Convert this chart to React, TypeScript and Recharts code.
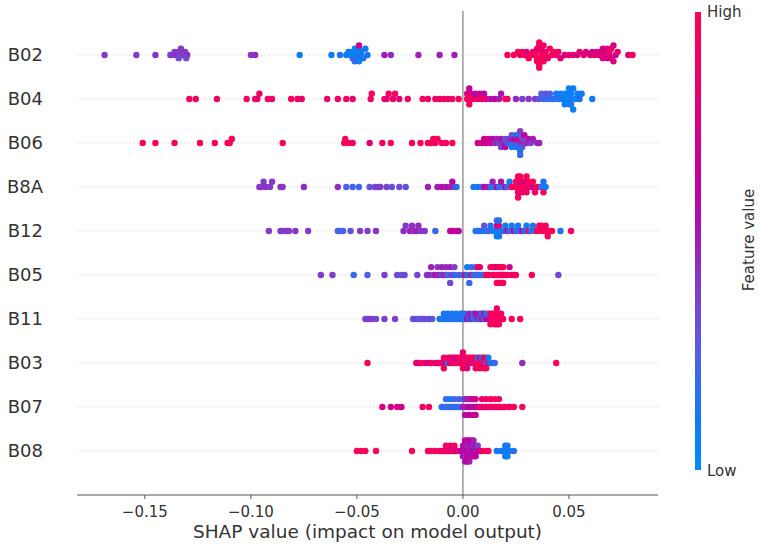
import React from "react";
import { ScatterChart, Scatter, XAxis, YAxis, ReferenceLine } from "recharts";

// feature names, top to bottom
const FEATURES = ["B02", "B04", "B06", "B8A", "B12", "B05", "B11", "B03", "B07", "B08"];
const X_TICKS = [-0.15, -0.1, -0.05, 0, 0.05];

// [shap value, feature value 0..1]
const B02: [number, number][] = [
  [-0.169, 0.4], [-0.154, 0.4], [-0.145, 0.42], [-0.138, 0.35], [-0.137, 0.4], [-0.136, 0.38], [-0.135, 0.45],
  [-0.134, 0.4], [-0.134, 0.35], [-0.133, 0.42], [-0.132, 0.38], [-0.131, 0.4], [-0.13, 0.45], [-0.1305, 0.36],
  [-0.1, 0.42], [-0.098, 0.45], [-0.077, 0.1], [-0.062, 0.1], [-0.058, 0.15],
  [-0.055, 0.1], [-0.054, 0.12], [-0.053, 0.05], [-0.052, 0.1], [-0.052, 0.15], [-0.051, 0.08], [-0.051, 0.2],
  [-0.05, 0.1], [-0.05, 0.05], [-0.05, 0.12], [-0.049, 0.1], [-0.049, 0.08], [-0.049, 0.7], [-0.048, 0.12],
  [-0.048, 0.1], [-0.047, 0.15], [-0.046, 0.1], [-0.045, 0.12],
  [-0.037, 0.5], [-0.034, 0.45], [-0.021, 0.48], [-0.011, 0.5], [-0.004, 0.5],
  [0.021, 0.95], [0.024, 0.9], [0.026, 0.95], [0.027, 0.85], [0.028, 0.9], [0.029, 0.95], [0.03, 0.8],
  [0.031, 0.9], [0.032, 0.95], [0.033, 0.85], [0.034, 0.95], [0.034, 0.9], [0.035, 1], [0.035, 0.85],
  [0.035, 0.95], [0.036, 0.9], [0.036, 0.95], [0.036, 1], [0.037, 0.85], [0.037, 1],
  [0.036, 0.95], [0.037, 0.9], [0.037, 0.8], [0.038, 0.95], [0.038, 0.85], [0.039, 1], [0.039, 0.9], [0.04, 0.85],
  [0.041, 0.95], [0.042, 0.9], [0.043, 1], [0.044, 0.85], [0.045, 0.9], [0.046, 0.8], [0.048, 0.75],
  [0.05, 0.85], [0.052, 0.8], [0.054, 0.75], [0.055, 0.85], [0.057, 0.8], [0.058, 0.75], [0.06, 0.8],
  [0.061, 0.7], [0.062, 0.85], [0.063, 0.75], [0.064, 0.8], [0.065, 0.7], [0.066, 0.85], [0.066, 0.75],
  [0.067, 0.8], [0.067, 0.75], [0.068, 0.7], [0.068, 0.8], [0.069, 0.9], [0.069, 0.8], [0.07, 0.75],
  [0.07, 0.85], [0.071, 0.8], [0.071, 0.75], [0.072, 0.7], [0.073, 0.85], [0.078, 0.8], [0.08, 0.9],
];

const B04: [number, number][] = [
  [-0.129, 0.88], [-0.126, 0.88], [-0.116, 0.88], [-0.102, 0.88], [-0.098, 0.9], [-0.097, 0.85], [-0.096, 0.88],
  [-0.092, 0.88], [-0.09, 0.88], [-0.081, 0.88], [-0.078, 0.9], [-0.076, 0.85], [-0.064, 0.88], [-0.059, 0.88],
  [-0.055, 0.88], [-0.052, 0.85], [-0.0435, 0.9], [-0.043, 0.88],
  [-0.037, 0.9], [-0.036, 0.8], [-0.035, 0.9], [-0.033, 0.85], [-0.032, 0.9], [-0.03, 0.8], [-0.026, 0.9],
  [-0.019, 0.9], [-0.0165, 0.88], [-0.013, 0.9], [-0.011, 0.85], [-0.009, 0.9], [-0.007, 0.85], [-0.005, 0.9],
  [-0.002, 0.9],
  [0.002, 0.95], [0.002, 0.8], [0.003, 0.9], [0.003, 0.65], [0.004, 0.95], [0.004, 0.75], [0.005, 0.9],
  [0.006, 0.6], [0.007, 0.85], [0.008, 0.7], [0.009, 0.9], [0.01, 0.6], [0.011, 0.85],
  [0.013, 0.55], [0.015, 0.6], [0.017, 0.5], [0.018, 0.55], [0.02, 0.9], [0.021, 0.9],
  [0.025, 0.45], [0.028, 0.4], [0.031, 0.42], [0.034, 0.4],
  [0.036, 0.3], [0.037, 0.25], [0.038, 0.2], [0.039, 0.3], [0.04, 0.2], [0.041, 0.25], [0.042, 0.15],
  [0.043, 0.2], [0.044, 0.1], [0.045, 0.15], [0.046, 0.1], [0.047, 0.1], [0.048, 0.05], [0.048, 0.1],
  [0.049, 0.05], [0.05, 0.1], [0.05, 0.05], [0.05, 0.08], [0.051, 0.1], [0.051, 0.05], [0.051, 0.15],
  [0.052, 0.1], [0.052, 0.08], [0.053, 0.05], [0.054, 0.1], [0.055, 0.15], [0.056, 0.1], [0.061, 0.1],
];

const B06: [number, number][] = [
  [-0.151, 0.95], [-0.145, 0.95], [-0.136, 0.95], [-0.124, 0.95], [-0.117, 0.95], [-0.111, 0.95], [-0.11, 0.95],
  [-0.109, 0.95], [-0.085, 0.95], [-0.056, 0.95], [-0.0555, 0.9], [-0.054, 0.95], [-0.052, 0.9], [-0.044, 0.75],
  [-0.038, 0.95], [-0.034, 0.95], [-0.024, 0.95], [-0.02, 0.95], [-0.0165, 0.95], [-0.015, 0.9], [-0.014, 0.95],
  [-0.013, 0.9], [-0.012, 0.95], [-0.01, 0.9], [-0.008, 0.95], [-0.005, 0.95],
  [0.007, 0.7], [0.009, 0.75], [0.01, 0.7], [0.011, 0.65], [0.012, 0.7], [0.013, 0.75],
  [0.014, 0.6], [0.015, 0.45], [0.016, 0.5], [0.017, 0.4], [0.018, 0.55], [0.018, 0.35], [0.019, 0.45],
  [0.02, 0.3], [0.02, 0.6], [0.021, 0.35], [0.022, 0.2], [0.022, 0.45], [0.023, 0.1], [0.023, 0.3],
  [0.024, 0.15], [0.024, 0.6], [0.025, 0.2], [0.025, 0.1], [0.026, 0.4], [0.026, 0.7], [0.026, 0.15],
  [0.027, 0.25], [0.027, 0.1], [0.027, 0.4], [0.027, 0.2], [0.028, 0.5], [0.028, 0.35], [0.028, 0.3],
  [0.029, 0.6], [0.03, 0.45], [0.031, 0.55], [0.032, 0.4], [0.033, 0.5], [0.035, 0.45], [0.036, 0.5],
];

const B8A: [number, number][] = [
  [-0.096, 0.4], [-0.095, 0.42], [-0.094, 0.4], [-0.093, 0.45], [-0.091, 0.4], [-0.09, 0.42], [-0.086, 0.45],
  [-0.085, 0.4], [-0.075, 0.45], [-0.059, 0.45], [-0.055, 0.25], [-0.052, 0.25], [-0.049, 0.2], [-0.044, 0.3],
  [-0.0415, 0.35], [-0.04, 0.4], [-0.039, 0.4], [-0.036, 0.38], [-0.0335, 0.3], [-0.03, 0.35], [-0.027, 0.3],
  [-0.0165, 0.5], [-0.012, 0.5], [-0.01, 0.55], [-0.008, 0.55], [-0.006, 0.5], [-0.005, 0.6], [-0.004, 0.45],
  [-0.003, 0.15],
  [0.005, 0.15], [0.007, 0.1], [0.009, 0.2], [0.01, 0.55], [0.012, 0.6], [0.013, 0.15], [0.014, 0.5],
  [0.015, 0.1], [0.016, 0.65], [0.017, 0.2], [0.018, 0.55], [0.019, 0.15], [0.02, 0.6], [0.021, 0.2],
  [0.022, 0.1], [0.023, 0.9],
  [0.024, 0.95], [0.025, 0.9], [0.025, 1], [0.026, 0.85], [0.026, 0.95], [0.026, 0.9], [0.027, 0.9],
  [0.027, 0.7], [0.027, 1], [0.027, 0.95], [0.028, 1], [0.028, 0.9], [0.028, 0.85], [0.029, 0.95],
  [0.029, 0.75], [0.03, 0.9], [0.03, 1], [0.031, 0.85],
  [0.031, 0.95], [0.032, 0.9], [0.033, 0.7], [0.033, 1], [0.034, 0.9], [0.035, 0.95], [0.036, 0.85],
  [0.037, 0.2], [0.038, 0.15], [0.038, 0.9], [0.039, 0.1],
];

const B12: [number, number][] = [
  [-0.0915, 0.4], [-0.086, 0.42], [-0.085, 0.4], [-0.083, 0.45], [-0.082, 0.4], [-0.079, 0.42], [-0.073, 0.4],
  [-0.059, 0.25], [-0.058, 0.2], [-0.0565, 0.25], [-0.053, 0.3], [-0.0485, 0.4], [-0.045, 0.4], [-0.041, 0.42],
  [-0.028, 0.45], [-0.027, 0.4], [-0.025, 0.5], [-0.024, 0.45], [-0.023, 0.4], [-0.022, 0.5], [-0.021, 0.45],
  [-0.02, 0.4], [-0.018, 0.42], [-0.013, 0.2], [-0.006, 0.6], [-0.005, 0.65], [-0.003, 0.65], [-0.002, 0.6],
  [0.006, 0.15], [0.007, 0.1], [0.008, 0.2], [0.009, 0.15], [0.01, 0.3], [0.011, 0.1], [0.012, 0.25],
  [0.013, 0.15], [0.014, 0.1], [0.015, 0.05], [0.016, 0.65], [0.016, 0.1], [0.016, 0.2], [0.017, 0.2],
  [0.017, 0.8], [0.017, 0.1], [0.017, 0.15],
  [0.018, 0.1], [0.019, 0.15], [0.02, 0.1], [0.021, 0.6], [0.022, 0.2], [0.023, 0.1], [0.024, 0.7],
  [0.025, 0.15], [0.026, 0.1], [0.027, 0.2], [0.028, 0.6], [0.029, 0.15], [0.03, 0.1], [0.031, 0.9],
  [0.032, 0.2], [0.033, 0.15], [0.034, 0.2],
  [0.035, 0.95], [0.036, 0.9], [0.037, 1], [0.037, 0.95], [0.038, 0.9], [0.039, 1], [0.039, 0.9],
  [0.04, 0.95], [0.041, 0.85], [0.042, 1], [0.046, 0.15], [0.051, 0.95],
];

const B05: [number, number][] = [
  [-0.067, 0.4], [-0.0615, 0.4], [-0.0515, 0.2], [-0.045, 0.25], [-0.037, 0.4], [-0.031, 0.35], [-0.029, 0.3],
  [-0.0275, 0.35], [-0.0215, 0.35],
  [-0.017, 0.4], [-0.016, 0.45], [-0.015, 0.5], [-0.014, 0.4], [-0.013, 0.55], [-0.012, 0.45], [-0.012, 0.4],
  [-0.011, 0.5], [-0.01, 0.3], [-0.01, 0.5], [-0.009, 0.55], [-0.008, 0.4], [-0.008, 0.45], [-0.007, 0.2],
  [-0.006, 0.5], [-0.006, 0.35], [-0.005, 0.45], [-0.004, 0.15], [-0.004, 0.4], [-0.002, 0.3],
  [0.0, 0.1], [0.001, 0.8], [0.002, 0.15], [0.002, 0.1], [0.003, 0.2], [0.004, 0.85], [0.004, 0.2],
  [0.005, 0.1], [0.006, 0.3], [0.006, 0.15], [0.007, 0.15], [0.007, 0.9], [0.008, 0.2], [0.008, 0.85],
  [0.009, 0.1], [0.01, 0.25],
  [0.011, 0.9], [0.012, 0.95], [0.013, 0.85], [0.014, 1], [0.014, 0.95], [0.015, 0.9], [0.015, 0.85],
  [0.016, 0.95], [0.016, 0.8], [0.016, 0.9], [0.017, 1], [0.017, 0.9], [0.017, 0.95], [0.018, 0.95],
  [0.018, 0.9], [0.018, 1], [0.019, 0.85], [0.019, 1], [0.019, 0.95], [0.02, 0.9], [0.021, 0.95],
  [0.022, 0.7], [0.023, 0.9], [0.024, 0.85], [0.025, 0.95], [0.0325, 0.95], [0.045, 0.35],
];

const B11: [number, number][] = [
  [-0.046, 0.35], [-0.045, 0.38], [-0.044, 0.35], [-0.043, 0.4], [-0.041, 0.35], [-0.037, 0.38], [-0.032, 0.4],
  [-0.0235, 0.3], [-0.022, 0.35], [-0.021, 0.3], [-0.02, 0.25], [-0.019, 0.4], [-0.018, 0.3], [-0.016, 0.35],
  [-0.0145, 0.3],
  [-0.011, 0.15], [-0.01, 0.1], [-0.009, 0.2], [-0.009, 0.15], [-0.008, 0.1], [-0.007, 0.15], [-0.007, 0.1],
  [-0.006, 0.1], [-0.005, 0.2], [-0.005, 0.15], [-0.004, 0.1], [-0.003, 0.15], [-0.003, 0.1], [-0.002, 0.1],
  [-0.001, 0.2], [-0.001, 0.1], [0.0, 0.15], [0.0, 0.2],
  [0.001, 0.1], [0.001, 0.15], [0.002, 0.6], [0.003, 0.15], [0.003, 0.5], [0.004, 0.55], [0.005, 0.1],
  [0.005, 0.2], [0.006, 0.2], [0.006, 0.55], [0.007, 0.5], [0.008, 0.15], [0.008, 0.5], [0.009, 0.6],
  [0.009, 0.1], [0.01, 0.2], [0.01, 0.6], [0.011, 0.55], [0.011, 0.1], [0.012, 0.7], [0.012, 0.25],
  [0.013, 0.6],
  [0.013, 0.9], [0.013, 0.95], [0.014, 0.95], [0.014, 0.9], [0.015, 0.85], [0.015, 1], [0.015, 0.95],
  [0.016, 0.9], [0.016, 0.95], [0.016, 1], [0.016, 0.85], [0.017, 0.95], [0.017, 0.85], [0.017, 0.9],
  [0.018, 1], [0.018, 0.9], [0.019, 0.95], [0.023, 0.95], [0.027, 0.95],
];

const B03: [number, number][] = [
  [-0.045, 0.95],
  [-0.022, 0.9], [-0.021, 0.7], [-0.02, 0.95], [-0.018, 0.85], [-0.016, 0.7], [-0.015, 0.9], [-0.013, 0.75],
  [-0.012, 0.95],
  [-0.011, 0.85], [-0.01, 0.95], [-0.009, 0.7], [-0.009, 0.9], [-0.009, 0.95], [-0.008, 0.8], [-0.007, 0.1],
  [-0.007, 0.9], [-0.006, 0.95], [-0.006, 0.85], [-0.005, 0.75], [-0.005, 0.85], [-0.004, 0.95], [-0.004, 0.8],
  [-0.003, 0.9], [-0.003, 0.7], [-0.002, 0.95], [-0.002, 0.9], [-0.001, 0.85], [-0.001, 0.95], [0.0, 0.8],
  [0.0, 0.9], [0.0, 0.95], [0.0, 0.85],
  [0.001, 0.95], [0.001, 0.85], [0.002, 0.9], [0.002, 0.95], [0.002, 0.75], [0.003, 0.8], [0.003, 0.95],
  [0.004, 0.9], [0.004, 0.85], [0.005, 0.7], [0.005, 0.95], [0.006, 0.85], [0.006, 0.95], [0.006, 0.9],
  [0.007, 0.95], [0.007, 0.1], [0.008, 0.9], [0.008, 0.85], [0.008, 0.95], [0.009, 0.95], [0.009, 0.15],
  [0.01, 0.9], [0.01, 0.8], [0.01, 0.95], [0.011, 0.2], [0.011, 0.95], [0.011, 0.9], [0.012, 0.85],
  [0.012, 0.1], [0.013, 0.15], [0.014, 0.1], [0.015, 0.2], [0.028, 0.45], [0.044, 0.95],
];

const B07: [number, number][] = [
  [-0.038, 0.75], [-0.034, 0.7], [-0.031, 0.75], [-0.029, 0.7], [-0.019, 0.9], [-0.016, 0.9],
  [-0.01, 0.15], [-0.009, 0.2], [-0.008, 0.1], [-0.008, 0.2], [-0.007, 0.25], [-0.006, 0.15], [-0.006, 0.1],
  [-0.005, 0.3], [-0.004, 0.1], [-0.004, 0.2], [-0.003, 0.2], [-0.002, 0.15], [-0.002, 0.25], [-0.001, 0.25],
  [0.0, 0.5], [0.0, 0.2],
  [0.001, 0.5], [0.001, 0.45], [0.001, 0.55], [0.002, 0.55], [0.002, 0.5], [0.003, 0.6], [0.003, 0.5],
  [0.003, 0.65], [0.004, 0.65], [0.004, 0.55], [0.005, 0.55], [0.005, 0.7], [0.005, 0.6], [0.006, 0.6],
  [0.006, 0.75], [0.006, 0.7], [0.007, 0.65],
  [0.008, 0.85], [0.009, 0.9], [0.009, 0.85], [0.01, 0.8], [0.011, 0.9], [0.011, 0.95], [0.012, 0.85],
  [0.013, 0.95], [0.013, 0.9], [0.014, 0.9], [0.015, 0.85], [0.015, 0.95], [0.016, 0.9], [0.017, 0.95],
  [0.017, 0.9], [0.018, 0.85], [0.019, 0.9], [0.02, 0.95], [0.022, 0.9], [0.024, 0.95], [0.028, 0.95],
];

const B08: [number, number][] = [
  [-0.05, 0.95], [-0.048, 0.95], [-0.046, 0.95], [-0.041, 0.95], [-0.024, 0.95],
  [-0.0165, 0.95], [-0.015, 0.9], [-0.013, 0.95], [-0.011, 0.85],
  [-0.01, 0.9], [-0.009, 0.85], [-0.008, 0.95], [-0.008, 0.9], [-0.007, 0.8], [-0.006, 0.9], [-0.006, 0.85],
  [-0.005, 0.75], [-0.004, 0.85], [-0.004, 0.9], [-0.003, 0.7], [-0.002, 0.9], [-0.001, 0.65],
  [0.0, 0.6], [0.0, 0.5], [0.0, 0.55], [0.001, 0.55], [0.001, 0.65], [0.001, 0.45], [0.001, 0.6],
  [0.001, 0.5], [0.002, 0.6], [0.002, 0.5], [0.002, 0.7], [0.002, 0.55], [0.002, 0.65], [0.003, 0.55],
  [0.003, 0.45], [0.003, 0.6], [0.003, 0.65], [0.003, 0.5], [0.004, 0.5], [0.004, 0.65], [0.004, 0.55],
  [0.004, 0.6], [0.005, 0.6], [0.005, 0.45], [0.005, 0.7], [0.005, 0.5], [0.006, 0.5], [0.006, 0.55],
  [0.006, 0.6], [0.007, 0.6], [0.007, 0.4], [0.008, 0.65],
  [0.009, 0.9], [0.011, 0.95], [0.012, 0.9],
  [0.016, 0.1], [0.018, 0.15], [0.019, 0.1], [0.02, 0.05], [0.02, 0.1], [0.02, 0.15], [0.021, 0.15],
  [0.021, 0.1], [0.021, 0.05], [0.022, 0.1], [0.024, 0.15],
];

const ROWS = [B02, B04, B06, B8A, B12, B05, B11, B03, B07, B08];

// shap red_blue colormap, low -> high
const STOPS: [number, number[]][] = [
  [0, [0, 138, 251]],
  [0.12, [20, 120, 240]],
  [0.25, [80, 96, 230]],
  [0.4, [130, 60, 200]],
  [0.5, [160, 30, 180]],
  [0.62, [190, 0, 160]],
  [0.75, [215, 0, 130]],
  [0.88, [240, 0, 100]],
  [1, [255, 0, 82]],
];

function colorAt(t: number) {
  for (let i = 1; i < STOPS.length; i++) {
    const [t1, c1] = STOPS[i];
    const [t0, c0] = STOPS[i - 1];
    if (t <= t1) {
      const f = (t - t0) / (t1 - t0);
      const c = c0.map((v, k) => Math.round(v + (c1[k] - v) * f));
      return `rgb(${c[0]},${c[1]},${c[2]})`;
    }
  }
  return "rgb(255,0,82)";
}

// beeswarm offsets the way shap does it: bin the values and stack alternately
function swarm(row: [number, number][], pos: number) {
  const xs = row.map((p) => p[0]);
  const lo = Math.min(...xs);
  const hi = Math.max(...xs);
  const quant = xs.map((x) => Math.round((100 * (x - lo)) / (hi - lo + 1e-8)));
  const order = xs.map((_, i) => i).sort((a, b) => quant[a] - quant[b]);
  const ys: number[] = new Array(xs.length).fill(0);
  let layer = 0;
  let last = -1;
  for (const i of order) {
    if (quant[i] !== last) layer = 0;
    ys[i] = Math.ceil(layer / 2) * ((layer % 2) * 2 - 1);
    layer++;
    last = quant[i];
  }
  const scale = (0.9 * 0.4) / Math.max(...ys.map((y) => y + 1));
  return row.map((p, i) => ({ x: p[0], y: pos + ys[i] * scale, fill: colorAt(p[1]) }));
}

const FONT = "DejaVu Sans, sans-serif";

const Dot = (props: any) => <circle cx={props.cx} cy={props.cy} r={3.2} fill={props.payload.fill} />;

const fmt = (v: number) => (v < 0 ? "\u2212" + Math.abs(v).toFixed(2) : v.toFixed(2));

export default function App() {
  const series = ROWS.map((row, i) => swarm(row, FEATURES.length - 1 - i));
  const gradient = STOPS.map(([t, c]) => `rgb(${c.join(",")}) ${t * 100}%`).join(", ");

  return (
    <div style={{ position: "absolute", left: 0, top: 0, width: 764, height: 551, background: "#fff", fontFamily: FONT }}>
      <ScatterChart width={764} height={551} margin={{ top: 11, right: 106, bottom: 0, left: 0 }}>
        <XAxis
          type="number"
          dataKey="x"
          domain={[-0.182, 0.092]}
          ticks={X_TICKS}
          tickFormatter={fmt}
          allowDataOverflow
          height={56}
          stroke="#555"
          tickSize={4}
          tickMargin={7}
          tick={{ fill: "#333", fontSize: 15, fontFamily: FONT }}
          label={{
            value: "SHAP value (impact on model output)",
            position: "insideBottom",
            offset: 13,
            fill: "#333",
            fontSize: 18.5,
            fontFamily: FONT,
          }}
        />
        <YAxis
          type="number"
          dataKey="y"
          domain={[-1, 10]}
          ticks={[0, 1, 2, 3, 4, 5, 6, 7, 8, 9]}
          tickFormatter={(v: number) => FEATURES[FEATURES.length - 1 - v]}
          width={77}
          axisLine={false}
          tickLine={false}
          tickSize={0}
          tickMargin={34}
          tick={{ fill: "#333", fontSize: 18, fontFamily: FONT }}
        />
        {FEATURES.map((f, i) => (
          <ReferenceLine key={f} y={FEATURES.length - 1 - i} stroke="#ccc" strokeDasharray="1 3" />
        ))}
        <ReferenceLine x={0} stroke="#999" strokeWidth={1.5} />
        {series.map((data, i) => (
          <Scatter key={FEATURES[i]} data={data} shape={Dot} isAnimationActive={false} />
        ))}
      </ScatterChart>
      <div
        style={{
          position: "absolute",
          left: 695,
          top: 12,
          width: 6,
          height: 458,
          background: `linear-gradient(to top, ${gradient})`,
        }}
      />
      <div style={{ position: "absolute", left: 707, top: 3, fontSize: 15, color: "#333", lineHeight: "18px" }}>High</div>
      <div style={{ position: "absolute", left: 707, top: 462, fontSize: 15, color: "#333", lineHeight: "18px" }}>Low</div>
      <div
        style={{
          position: "absolute",
          left: 749,
          top: 240,
          fontSize: 15,
          color: "#333",
          whiteSpace: "nowrap",
          transform: "translate(-50%, -50%) rotate(-90deg)",
        }}
      >
        Feature value
      </div>
    </div>
  );
}
